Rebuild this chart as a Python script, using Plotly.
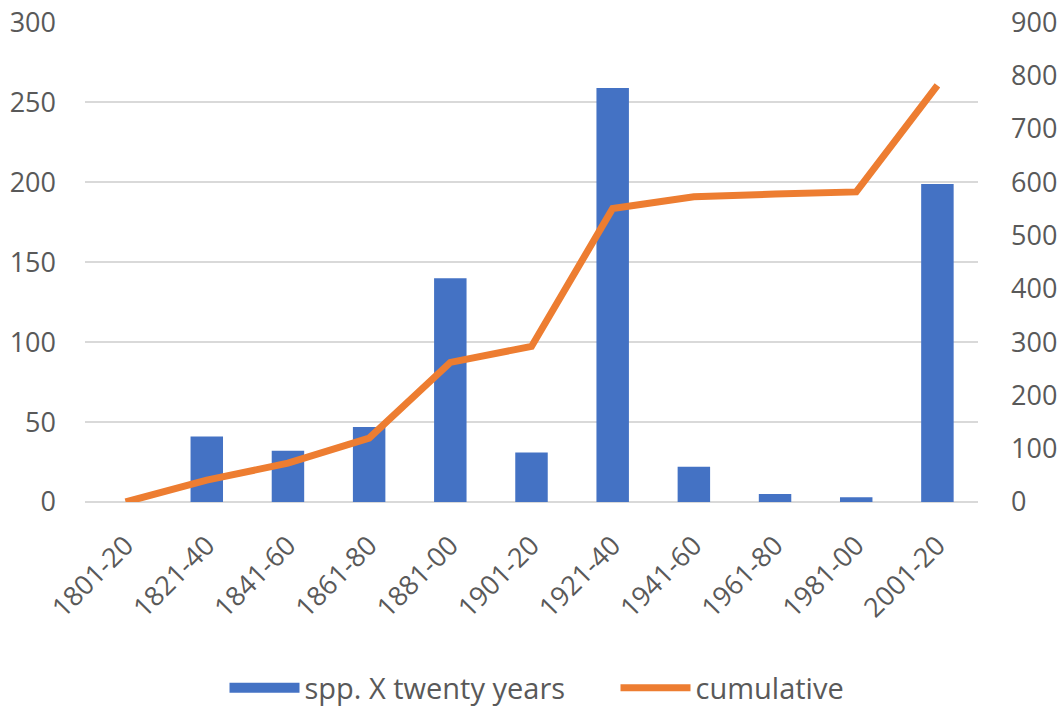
import plotly.graph_objects as go

categories = ["1801-20", "1821-40", "1841-60", "1861-80", "1881-00", "1901-20",
              "1921-40", "1941-60", "1961-80", "1981-00", "2001-20"]
spp_per_twenty = [0, 41, 32, 47, 140, 31, 259, 22, 5, 3, 199]
cumulative = [0, 41, 73, 120, 262, 292, 551, 573, 578, 582, 782]

left_ticks = [0, 50, 100, 150, 200, 250, 300]
right_ticks = [0, 100, 200, 300, 400, 500, 600, 700, 800, 900]

text_color = "#595959"
font_family = "Open Sans, Noto Sans, sans-serif"
fs = 27

fig = go.Figure()
fig.add_trace(go.Bar(
    x=categories, y=spp_per_twenty, name="spp. X twenty years",
    marker=dict(color="#4472C4", line=dict(width=0)), yaxis="y",
    showlegend=False))
fig.add_trace(go.Scatter(
    x=[None], y=[None], name="spp. X twenty years", mode="lines",
    line=dict(color="#4472C4", width=15)))
fig.add_trace(go.Scatter(
    x=categories, y=cumulative, name="cumulative", mode="lines",
    line=dict(color="#ED7D31", width=7), yaxis="y2"))

fig.update_layout(
    width=1064, height=706,
    margin=dict(l=85, r=86, t=22, b=204),
    paper_bgcolor="white", plot_bgcolor="white",
    font=dict(family=font_family, size=fs, color=text_color),
    bargap=0.6,
    showlegend=True,
    legend=dict(orientation="h", xref="container", yref="container",
                x=0.211, xanchor="left", y=0.0255, yanchor="middle",
                font=dict(size=29, color=text_color), itemwidth=70,
                entrywidth=306, tracegroupgap=0),
    xaxis=dict(tickangle=-45, showgrid=False, showline=False,
               ticks="outside", ticklen=16, tickcolor="rgba(0,0,0,0)",
               automargin=False,
               tickfont=dict(size=fs, color=text_color)),
    yaxis=dict(range=[0, 300.3], tickvals=left_ticks, showgrid=True,
               gridcolor="#D9D9D9", gridwidth=2, zeroline=True,
               zerolinecolor="#D9D9D9", zerolinewidth=2,
               ticks="", ticklabelstandoff=28, automargin=False,
               ticklabeloverflow="allow",
               tickfont=dict(size=fs, color=text_color)),
    yaxis2=dict(range=[0, 900.9], tickvals=right_ticks, overlaying="y", side="right",
                showgrid=False, zeroline=False, ticks="", ticklabelstandoff=32,
                automargin=False, ticklabeloverflow="allow",
                tickfont=dict(size=fs, color=text_color)),
)

fig.write_html("out.html", config={"displayModeBar": False},
               post_script="document.body.style.margin='0';document.body.style.overflow='hidden';")
